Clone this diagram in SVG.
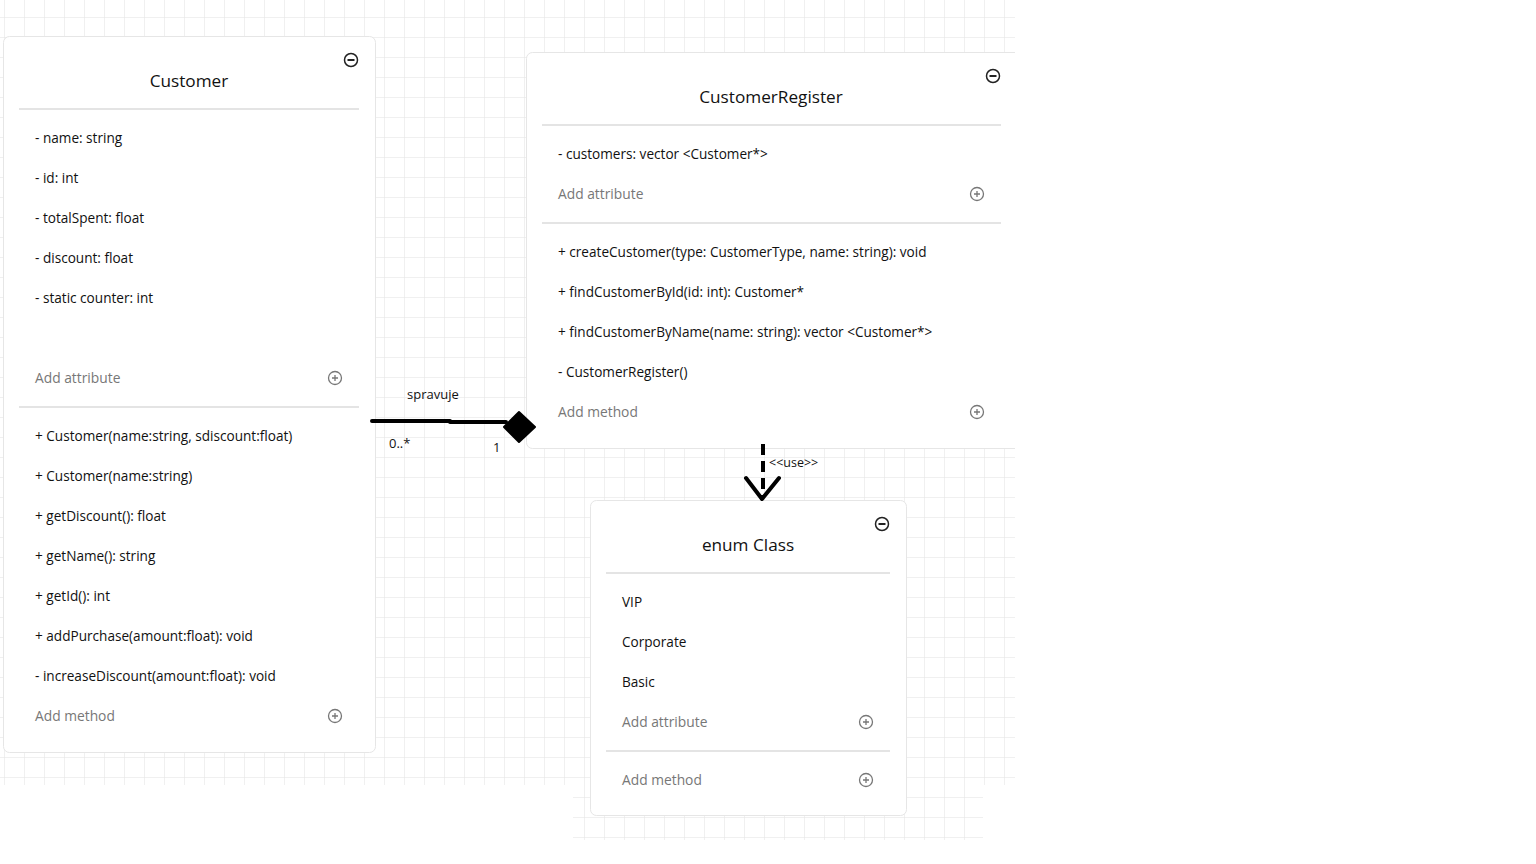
<svg xmlns="http://www.w3.org/2000/svg" width="1536" height="864" viewBox="0 0 1536 864">
<defs>
<pattern id="grid" x="4" y="17" width="20" height="20" patternUnits="userSpaceOnUse">
<path d="M0 0H20M0 0V20" fill="none" stroke="#e2e2e2" stroke-width="1"/>
</pattern>
<clipPath id="clipR"><rect x="0" y="0" width="1015" height="864"/></clipPath>
</defs>
<style>
.box{fill:#fff;stroke:#e6e6e6;stroke-width:1}
.sep{stroke:#e4e4e4;stroke-width:2}
.title{font-family:"Open Sans","Noto Sans",sans-serif;font-size:17.2px;fill:#111;text-anchor:middle}
.item{font-family:"Open Sans","Noto Sans",sans-serif;font-size:13.6px;fill:#111}
.add{font-family:"Open Sans","Noto Sans",sans-serif;font-size:13.8px;fill:#777}
.lbl{font-family:"Open Sans","Noto Sans",sans-serif;font-size:13px;fill:#111}
.icon{fill:none;stroke:#222;stroke-width:1.5}
.plus{fill:none;stroke:#777;stroke-width:1.3}
</style>
<rect width="1536" height="864" fill="#fff"/>
<rect x="0" y="0" width="1015" height="785" fill="url(#grid)"/>
<rect x="573" y="785" width="410" height="55" fill="url(#grid)"/>

<g id="customer">
<rect class="box" x="3.5" y="36.5" width="372" height="716" rx="6"/>
<text class="title" x="189" y="87">Customer</text>
<circle class="icon" cx="351" cy="60" r="6.5"/><line x1="347.5" y1="60" x2="354.5" y2="60" stroke="#222" stroke-width="2"/>
<line class="sep" x1="19" y1="109" x2="359" y2="109"/>
<text class="item" x="35" y="143">- name: string</text>
<text class="item" x="35" y="183">- id: int</text>
<text class="item" x="35" y="223">- totalSpent: float</text>
<text class="item" x="35" y="263">- discount: float</text>
<text class="item" x="35" y="303">- static counter: int</text>
<text class="add" x="35" y="383">Add attribute</text>
<circle class="plus" cx="335" cy="378" r="6.5"/><path d="M335 375V381M332 378H338" stroke="#777" stroke-width="1.3"/>
<line class="sep" x1="19" y1="407" x2="359" y2="407"/>
<text class="item" x="35" y="441">+ Customer(name:string, sdiscount:float)</text>
<text class="item" x="35" y="481">+ Customer(name:string)</text>
<text class="item" x="35" y="521">+ getDiscount(): float</text>
<text class="item" x="35" y="561">+ getName(): string</text>
<text class="item" x="35" y="601">+ getId(): int</text>
<text class="item" x="35" y="641">+ addPurchase(amount:float): void</text>
<text class="item" x="35" y="681">- increaseDiscount(amount:float): void</text>
<text class="add" x="35" y="721">Add method</text>
<circle class="plus" cx="335" cy="716" r="6.5"/><path d="M335 713V719M332 716H338" stroke="#777" stroke-width="1.3"/>
</g>

<g id="customerRegister">
<rect class="box" x="526.5" y="52.5" width="510" height="396" rx="6" clip-path="url(#clipR)"/>
<text class="title" x="771" y="103">CustomerRegister</text>
<circle class="icon" cx="993" cy="76" r="6.5"/><line x1="989.5" y1="76" x2="996.5" y2="76" stroke="#222" stroke-width="2"/>
<line class="sep" x1="542" y1="125" x2="1001" y2="125"/>
<text class="item" x="558" y="159">- customers: vector &lt;Customer*&gt;</text>
<text class="add" x="558" y="199">Add attribute</text>
<circle class="plus" cx="977" cy="194" r="6.5"/><path d="M977 191V197M974 194H980" stroke="#777" stroke-width="1.3"/>
<line class="sep" x1="542" y1="223" x2="1001" y2="223"/>
<text class="item" x="558" y="257">+ createCustomer(type: CustomerType, name: string): void</text>
<text class="item" x="558" y="297">+ findCustomerById(id: int): Customer*</text>
<text class="item" x="558" y="337">+ findCustomerByName(name: string): vector &lt;Customer*&gt;</text>
<text class="item" x="558" y="377">- CustomerRegister()</text>
<text class="add" x="558" y="417">Add method</text>
<circle class="plus" cx="977" cy="412" r="6.5"/><path d="M977 409V415M974 412H980" stroke="#777" stroke-width="1.3"/>
</g>

<g id="enumClass">
<rect class="box" x="590.5" y="500.5" width="316" height="315" rx="6"/>
<text class="title" x="748" y="551">enum Class</text>
<circle class="icon" cx="882" cy="524" r="6.5"/><line x1="878.5" y1="524" x2="885.5" y2="524" stroke="#222" stroke-width="2"/>
<line class="sep" x1="606" y1="573" x2="890" y2="573"/>
<text class="item" x="622" y="607">VIP</text>
<text class="item" x="622" y="647">Corporate</text>
<text class="item" x="622" y="687">Basic</text>
<text class="add" x="622" y="727">Add attribute</text>
<circle class="plus" cx="866" cy="722" r="6.5"/><path d="M866 719V725M863 722H869" stroke="#777" stroke-width="1.3"/>
<line class="sep" x1="606" y1="751" x2="890" y2="751"/>
<text class="add" x="622" y="785">Add method</text>
<circle class="plus" cx="866" cy="780" r="6.5"/><path d="M866 777V783M863 780H869" stroke="#777" stroke-width="1.3"/>
</g>

<g id="connectors">
<path d="M372 421H450M450 422H506" stroke="#000" stroke-width="4" stroke-linecap="round" fill="none"/>
<polygon points="504,427 519,412 535,427 519,442" fill="#000" stroke="#000" stroke-width="2" stroke-linejoin="round"/>
<text class="lbl" x="407" y="399">spravuje</text>
<text class="lbl" x="389" y="448">0..*</text>
<text class="lbl" x="493" y="452">1</text>
<line x1="763" y1="444" x2="763" y2="497" stroke="#000" stroke-width="4" stroke-dasharray="11,6"/>
<path d="M746 478L762 499L779 478" fill="none" stroke="#000" stroke-width="4" stroke-linecap="round" stroke-linejoin="round"/>
<text class="lbl" x="769" y="467" style="font-size:12.5px">&lt;&lt;use&gt;&gt;</text>
</g>
</svg>
